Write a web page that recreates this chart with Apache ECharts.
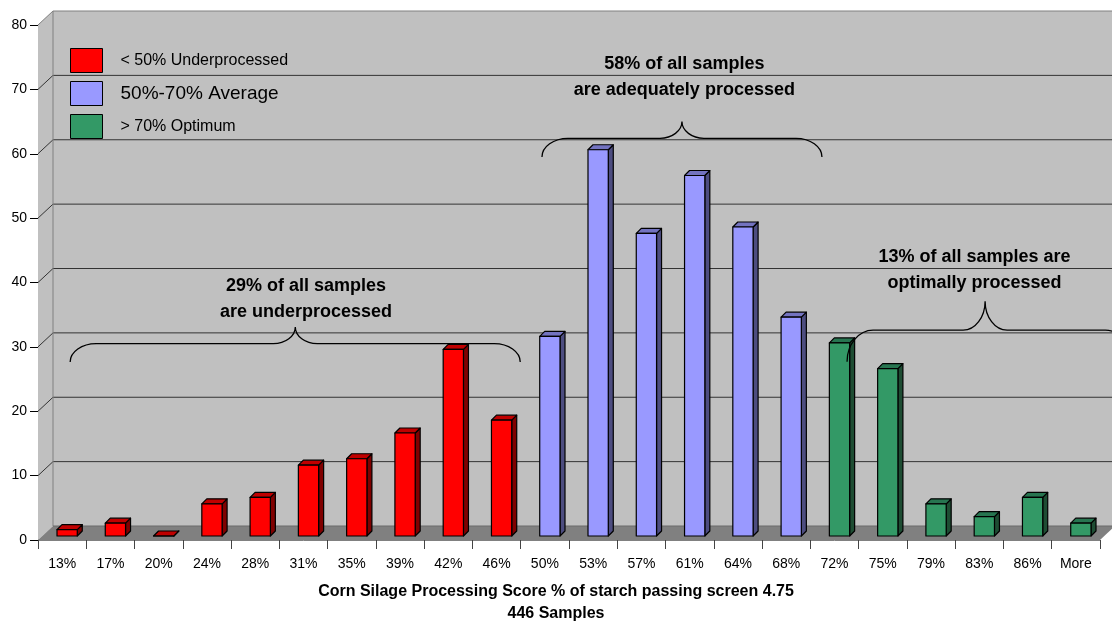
<!DOCTYPE html>
<html>
<head>
<meta charset="utf-8">
<script src="https://cdn.jsdelivr.net/npm/echarts@6/dist/echarts.min.js"></script>
<style>
  html, body { margin: 0; padding: 0; background: #ffffff; }
  #chart { width: 1112px; height: 623px; }
</style>
</head>
<body>
<div id="chart"></div>
<script>
// Processing score bins (x axis)
const categories = ['13%', '17%', '20%', '24%', '28%', '31%', '35%', '39%', '42%', '46%',
  '50%', '53%', '57%', '61%', '64%', '68%', '72%', '75%', '79%', '83%', '86%', 'More'];

// Sample counts per bin, split by processing class
const underprocessed = [1, 2, 0, 5, 6, 11, 12, 16, 29, 18];   // 13% – 46%
const average = [31, 60, 47, 56, 48, 34];                      // 50% – 68%
const optimum = [30, 26, 5, 3, 6, 2];                          // 72% – More

// Y axis ticks
const yMin = 0, yMax = 80, yStep = 10;

const FONT = 'Arial, "Liberation Sans", sans-serif';

// 3D box look: wall depth and bar placement (pixels)
const WALL_DX = 15, WALL_DY = -14;
const BAR_SHIFT_X = 5, BAR_SHIFT_Y = -4, BAR_DX = 5, BAR_DY = -5;

function toSeriesData(values, startIndex) {
  return values.map((v, k) => [startIndex + k, v]);
}

// Category axes snap to whole bins, so fractional positions are interpolated here
function coordAt(api, x, v) {
  const i0 = Math.floor(x);
  const p = api.coord([i0, v]);
  return [p[0] + (x - i0) * api.size([1, 0])[0], p[1]];
}

function renderScene(params, api) {
  const cs = params.coordSys;
  const L = cs.x, R = cs.x + cs.width, T = cs.y, B = cs.y + cs.height;
  const farR = R + WALL_DX + 40;
  const children = [];
  // back wall
  children.push({ type: 'polygon', shape: { points: [[L + WALL_DX, T + WALL_DY], [farR, T + WALL_DY], [farR, B + WALL_DY], [L + WALL_DX, B + WALL_DY]] },
    style: { fill: '#C0C0C0' } });
  // side wall
  children.push({ type: 'polygon', shape: { points: [[L, T], [L + WALL_DX, T + WALL_DY], [L + WALL_DX, B + WALL_DY], [L, B]] },
    style: { fill: '#C0C0C0' } });
  // floor
  children.push({ type: 'polygon', shape: { points: [[L, B], [R, B], [R + WALL_DX, B + WALL_DY], [L + WALL_DX, B + WALL_DY]] },
    style: { fill: '#808080' } });
  // gridlines on side and back walls
  for (let v = yMin + yStep; v < yMax; v += yStep) {
    const y = api.coord([0, v])[1];
    children.push({ type: 'polyline', shape: { points: [[L, y], [L + WALL_DX, y + WALL_DY], [farR, y + WALL_DY]] },
      style: { stroke: '#333333', lineWidth: 1, fill: null } });
  }
  // wall edges
  children.push({ type: 'polyline', shape: { points: [[L, T], [L + WALL_DX, T + WALL_DY], [farR, T + WALL_DY]] },
    style: { stroke: '#808080', lineWidth: 1, fill: null } });
  children.push({ type: 'line', shape: { x1: L + WALL_DX, y1: T + WALL_DY, x2: L + WALL_DX, y2: B + WALL_DY },
    style: { stroke: '#808080', lineWidth: 1 } });
  children.push({ type: 'line', shape: { x1: L + WALL_DX, y1: B + WALL_DY, x2: farR, y2: B + WALL_DY },
    style: { stroke: '#6a6a6a', lineWidth: 1 } });
  return { type: 'group', children: children };
}

function makeBarRenderer(front, side, top) {
  return function (params, api) {
    const i = api.value(0), v = api.value(1);
    const base = api.coord([i, 0]);
    const tip = api.coord([i, v]);
    const band = api.size([1, 0])[0];
    const w = band * 0.42;
    const x0 = base[0] + BAR_SHIFT_X - w / 2, x1 = x0 + w;
    const yb = base[1] + BAR_SHIFT_Y, yt = tip[1] + BAR_SHIFT_Y;
    const stroke = { stroke: '#000000', lineWidth: 1.2, lineJoin: 'round' };
    return {
      type: 'group',
      children: [
        { type: 'polygon', shape: { points: [[x1, yb], [x1 + BAR_DX, yb + BAR_DY], [x1 + BAR_DX, yt + BAR_DY], [x1, yt]] },
          style: Object.assign({ fill: side }, stroke) },
        { type: 'polygon', shape: { points: [[x0, yt], [x1, yt], [x1 + BAR_DX, yt + BAR_DY], [x0 + BAR_DX, yt + BAR_DY]] },
          style: Object.assign({ fill: top }, stroke) },
        { type: 'polygon', shape: { points: [[x0, yb], [x1, yb], [x1, yt], [x0, yt]] },
          style: Object.assign({ fill: front }, stroke) }
      ]
    };
  };
}

// Brace callouts, placed in axis units (category index, count)
const braceSpecs = [
  { from: 0.166, to: 9.49, peak: 4.83, endV: 27.65, barV: 30.5, peakV: 33.1 },
  { from: 9.94, to: 15.74, peak: 12.84, endV: 59.5, barV: 62.4, peakV: 65.0 },
  { from: 16.26, to: 22.15, peak: 19.12, endV: 27.7, barV: 32.6, peakV: 37.1 }
];
const noteSpecs = [
  { at: [5.05, 37.44], text: '29% of all samples\nare underprocessed' },
  { at: [12.89, 71.9], text: '58% of all samples\nare adequately processed' },
  { at: [18.9, 42.0], text: '13% of all samples are\noptimally processed' }
];

function bracePath(l, r, p, endY, barY, peakY) {
  const r1 = 26, r2 = 22;
  const h1 = endY - barY, h2 = barY - peakY, k = 0.55;
  return [
    'M', l, endY,
    'C', l, endY - k * h1, l + r1 - k * r1, barY, l + r1, barY,
    'L', p - r2, barY,
    'C', p - r2 + k * r2, barY, p, peakY + k * h2, p, peakY,
    'C', p, peakY + k * h2, p + r2 - k * r2, barY, p + r2, barY,
    'L', r - r1, barY,
    'C', r - r1 + k * r1, barY, r, endY - k * h1, r, endY
  ].join(' ');
}

function renderNotes(params, api) {
  const children = [];
  braceSpecs.forEach(b => {
    const l = coordAt(api, b.from, b.endV);
    const r = coordAt(api, b.to, b.endV);
    const p = coordAt(api, b.peak, b.peakV);
    const bar = coordAt(api, b.peak, b.barV);
    children.push({ type: 'path', shape: { pathData: bracePath(l[0], r[0], p[0], l[1], bar[1], p[1]) },
      style: { stroke: '#000000', lineWidth: 1.3, fill: null } });
  });
  noteSpecs.forEach(n => {
    const c = coordAt(api, n.at[0], n.at[1]);
    children.push({ type: 'text', x: c[0], y: c[1],
      style: { text: n.text, fill: '#000000', fontFamily: FONT, fontWeight: 'bold', fontSize: 18,
        lineHeight: 26, align: 'center', verticalAlign: 'middle' } });
  });
  return { type: 'group', children: children };
}

const chart = echarts.init(document.getElementById('chart'), null, { renderer: 'canvas' });

chart.setOption({
  animation: false,
  backgroundColor: '#ffffff',
  grid: { left: 38, right: 12, top: 25, bottom: 83, containLabel: false },
  xAxis: {
    type: 'category',
    data: categories,
    boundaryGap: true,
    axisLine: { show: true, lineStyle: { color: '#808080', width: 1 } },
    axisTick: { show: true, length: 9, interval: 0, lineStyle: { color: '#444444' } },
    axisLabel: { interval: 0, margin: 17, fontSize: 14, color: '#000000', fontFamily: FONT },
    splitLine: { show: false }
  },
  yAxis: {
    type: 'value',
    min: yMin, max: yMax, interval: yStep,
    axisLine: { show: true, lineStyle: { color: '#808080', width: 1 } },
    axisTick: { show: true, length: 8, lineStyle: { color: '#000000' } },
    axisLabel: { margin: 11, fontSize: 14, color: '#000000', fontFamily: FONT },
    splitLine: { show: false }
  },
  legend: {
    orient: 'vertical',
    left: 70, top: 48, padding: 0,
    itemWidth: 32, itemHeight: 24, itemGap: 8,
    icon: 'rect',
    itemStyle: { borderColor: '#000000', borderWidth: 1 },
    textStyle: { fontSize: 16, color: '#000000', fontFamily: FONT, padding: [0, 0, 0, 13] },
    data: [
      { name: '< 50% Underprocessed' },
      { name: '50%-70% Average', textStyle: { fontSize: 19 } },
      { name: '> 70% Optimum' }
    ]
  },
  graphic: [
    { type: 'text', left: 'center', top: 584,
      style: { text: 'Corn Silage Processing Score % of starch passing screen 4.75', fill: '#000000',
        fontFamily: FONT, fontWeight: 'bold', fontSize: 16 } },
    { type: 'text', left: 'center', top: 606,
      style: { text: '446 Samples', fill: '#000000', fontFamily: FONT, fontWeight: 'bold', fontSize: 16 } }
  ],
  series: [
    { type: 'custom', name: 'scene', z: 1, silent: true, renderItem: renderScene, data: [[0, 0]] },
    { type: 'custom', name: '< 50% Underprocessed', z: 3,
      itemStyle: { color: '#FF0000' },
      renderItem: makeBarRenderer('#FF0000', '#800000', '#C00000'),
      encode: { x: 0, y: 1 }, data: toSeriesData(underprocessed, 0) },
    { type: 'custom', name: '50%-70% Average', z: 3,
      itemStyle: { color: '#9999FF' },
      renderItem: makeBarRenderer('#9999FF', '#4D4D80', '#7373C0'),
      encode: { x: 0, y: 1 }, data: toSeriesData(average, underprocessed.length) },
    { type: 'custom', name: '> 70% Optimum', z: 3,
      itemStyle: { color: '#339966' },
      renderItem: makeBarRenderer('#339966', '#1E4D33', '#277550'),
      encode: { x: 0, y: 1 }, data: toSeriesData(optimum, underprocessed.length + average.length) },
    { type: 'custom', name: 'notes', z: 5, silent: true, renderItem: renderNotes, data: [[0, 0]] }
  ]
});
</script>
</body>
</html>
